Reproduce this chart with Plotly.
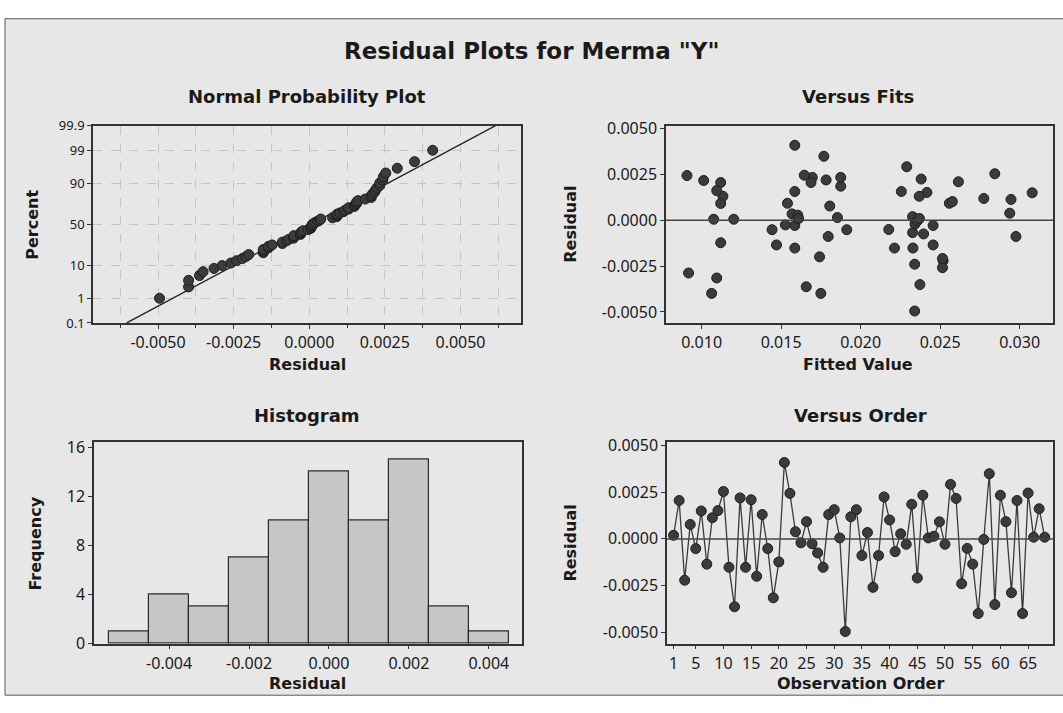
import plotly.graph_objects as go
from statistics import NormalDist, mean, stdev

# ---------------- data ----------------
obs_order = list(range(1, 69))
residuals = [
    0.00019, 0.00205, -0.00221, 0.00077, -0.00052, 0.00149, -0.00135, 0.00113,
    0.00151, 0.00253, -0.00152, -0.00363, 0.00219, -0.00152, 0.00209, -0.00200,
    0.00130, -0.00052, -0.00315, -0.00123, 0.00408, 0.00243, 0.00038, -0.00021,
    0.00092, -0.00026, -0.00075, -0.00152, 0.00130, 0.00156, 0.00005, -0.00495,
    0.00118, 0.00156, -0.00089, 0.00034, -0.00259, -0.00089, 0.00224, 0.00101,
    -0.00068, 0.00027, -0.00029, 0.00185, -0.00209, 0.00233, 0.00005, 0.00014,
    0.00091, -0.00029, 0.00291, 0.00216, -0.00240, -0.00051, -0.00135, -0.00399,
    -0.00003, 0.00348, -0.00351, 0.00233, 0.00092, -0.00288, 0.00205, -0.00399,
    0.00245, 0.00009, 0.00161, 0.00009,
]
fitted = [
    0.02327, 0.01120, 0.02519, 0.01806, 0.01443, 0.03079, 0.02456, 0.02946,
    0.02417, 0.02844, 0.01586, 0.01658, 0.01783, 0.02213, 0.02615, 0.01742,
    0.02369, 0.01913, 0.01095, 0.01120, 0.01586, 0.00908, 0.02938, 0.02342,
    0.02558, 0.01527, 0.02396, 0.02329, 0.01134, 0.01586, 0.01076, 0.02340,
    0.02775, 0.02256, 0.01796, 0.01569, 0.02515, 0.02977, 0.02381, 0.02577,
    0.02327, 0.01605, 0.01586, 0.01875, 0.02515, 0.01696, 0.01202, 0.01854,
    0.01120, 0.02456, 0.02290, 0.01013, 0.02340, 0.02177, 0.01471, 0.01063,
    0.02358, 0.01769, 0.02373, 0.01875, 0.01540, 0.00918, 0.01688, 0.01750,
    0.01646, 0.02370, 0.01095, 0.01610,
]

pct_ticks = [0.1, 1, 10, 50, 90, 99, 99.9]
pct_labels = ["0.1", "1", "10", "50", "90", "99", "99.9"]
res_ticks5 = [-0.005, -0.0025, 0.0, 0.0025, 0.005]
res_labels5 = ["-0.0050", "-0.0025", "0.0000", "0.0025", "0.0050"]
fit_ticks = [0.010, 0.015, 0.020, 0.025, 0.030]
fit_labels = ["0.010", "0.015", "0.020", "0.025", "0.030"]
hist_ticks = [-0.004, -0.002, 0.0, 0.002, 0.004]
hist_labels = ["-0.004", "-0.002", "0.000", "0.002", "0.004"]
freq_ticks = [0, 4, 8, 12, 16]
order_ticks = [1, 5, 10, 15, 20, 25, 30, 35, 40, 45, 50, 55, 60, 65]

# ---------------- derived ----------------
nd = NormalDist()
n = len(residuals)
sorted_res = sorted(residuals)
z_scores = [nd.inv_cdf((i - 0.3) / (n + 0.4)) for i in range(1, n + 1)]
mu, sd = mean(residuals), stdev(residuals)
z_lo, z_hi = nd.inv_cdf(0.001), nd.inv_cdf(0.999)
pct_z = [nd.inv_cdf(p / 100) for p in pct_ticks]

W, H = 1063, 713
def px(x):
    return x / W
def py(y):
    return 1 - y / H

MK = dict(color="#3b3b3b", size=10, line=dict(color="#1e1e1e", width=1))
TICKFONT = dict(family="Noto Sans", size=16, color="#1a1a1a")

fig = go.Figure()

# Normal probability plot
fig.add_trace(go.Scatter(x=[mu + sd * z_lo, mu + sd * z_hi], y=[z_lo, z_hi],
                         mode="lines", line=dict(color="#222", width=1.3),
                         xaxis="x", yaxis="y", showlegend=False))
fig.add_trace(go.Scatter(x=sorted_res, y=z_scores, mode="markers", marker=MK,
                         xaxis="x", yaxis="y", showlegend=False))
# Versus fits
fig.add_trace(go.Scatter(x=fitted, y=residuals, mode="markers", marker=MK,
                         xaxis="x2", yaxis="y2", showlegend=False))
# Histogram
fig.add_trace(go.Histogram(x=residuals, xbins=dict(start=-0.0055, end=0.0045, size=0.001),
                           marker=dict(color="#c6c6c6", line=dict(color="#2a2a2a", width=1.2)),
                           xaxis="x3", yaxis="y3", showlegend=False))
# Versus order
fig.add_trace(go.Scatter(x=obs_order, y=residuals, mode="lines+markers", marker=MK,
                         line=dict(color="#3a3a3a", width=1.3),
                         xaxis="x4", yaxis="y4", showlegend=False))

common = dict(showline=True, mirror=True, linecolor="#333", linewidth=1.5,
              ticks="outside", ticklen=4, tickcolor="#333", zeroline=False,
              showgrid=False, tickfont=TICKFONT, fixedrange=True)

row_top = [py(323), py(120)]
row_bot = [py(653), py(446)]
col_l = [px(93), px(521)]
col_r = [px(666), px(1053)]

fig.update_layout(
    width=W, height=H, autosize=False,
    margin=dict(l=0, r=0, t=0, b=0),
    paper_bgcolor="white", plot_bgcolor="white",
    bargap=0,
    xaxis=dict(common, domain=col_l, range=[-0.00715, 0.0070],
               tickmode="array", tickvals=res_ticks5, ticktext=res_labels5,
               showgrid=True, gridcolor="#c4c4c4", griddash="dash", gridwidth=1,
               minor=dict(tickmode="linear", tick0=0, dtick=0.00125, showgrid=True,
                          gridcolor="#c4c4c4", griddash="dash", ticks="outside",
                          ticklen=3, tickcolor="#333"),
               anchor="y"),
    yaxis=dict(common, domain=row_top, range=[z_lo, z_hi],
               tickmode="array", tickvals=pct_z, ticktext=pct_labels,
               tickfont=dict(family="Noto Sans", size=13, color="#1a1a1a"),
               showgrid=True, gridcolor="#c4c4c4", griddash="dash", gridwidth=1,
               anchor="x"),
    xaxis2=dict(common, domain=col_r, range=[0.00776, 0.0321],
                tickmode="array", tickvals=fit_ticks, ticktext=fit_labels, anchor="y2"),
    yaxis2=dict(common, domain=row_top, range=[-0.0056, 0.00515],
                tickmode="array", tickvals=res_ticks5, ticktext=res_labels5, anchor="x2"),
    xaxis3=dict(common, domain=[px(94), px(522)], range=[-0.00588, 0.00483],
                tickmode="array", tickvals=hist_ticks, ticktext=hist_labels, anchor="y3"),
    yaxis3=dict(common, domain=row_bot, range=[0, 16.37],
                tickmode="array", tickvals=freq_ticks, anchor="x3"),
    xaxis4=dict(common, domain=[px(667), px(1053)], range=[-0.19, 69.5],
                tickmode="array", tickvals=order_ticks, anchor="y4"),
    yaxis4=dict(common, domain=row_bot, range=[-0.0056, 0.00515],
                tickmode="array", tickvals=res_ticks5, ticktext=res_labels5, anchor="x4"),
)

# background panel and zero reference lines
fig.add_shape(type="rect", xref="paper", yref="paper", x0=px(5), x1=1.01, y0=py(706), y1=py(10),
              fillcolor="#e7e7e7", line=dict(color="#5a5a5a", width=1), layer="below")
fig.add_shape(type="line", xref="x2 domain", yref="y2", x0=0, x1=1, y0=0, y1=0,
              line=dict(color="#444", width=1.5))
fig.add_shape(type="line", xref="x4 domain", yref="y4", x0=0, x1=1, y0=0, y1=0,
              line=dict(color="#444", width=1.5))

def label(text, x, y, size, angle=0):
    fig.add_annotation(text="<b>%s</b>" % text, x=px(x), y=py(y), xref="paper", yref="paper",
                       showarrow=False, textangle=angle, xanchor="center", yanchor="middle",
                       font=dict(family="DejaVu Sans", size=size, color="#1a1a1a"))

label('Residual Plots for Merma "Y"', 531, 43, 23)
label("Normal Probability Plot", 307, 90, 18)
label("Versus Fits", 858, 90, 18)
label("Histogram", 307, 418, 18)
label("Versus Order", 860, 418, 18)
label("Residual", 307, 366, 16)
label("Fitted Value", 858, 366, 16)
label("Residual", 307, 694, 16)
label("Observation Order", 860, 694, 16)
label("Percent", 33, 222, 16, -90)
label("Residual", 571, 222, 16, -90)
label("Frequency", 36, 550, 16, -90)
label("Residual", 571, 550, 16, -90)

fig.write_html("out.html", config={"displayModeBar": False},
               post_script="document.body.style.margin='0';document.body.style.overflow='hidden';")
